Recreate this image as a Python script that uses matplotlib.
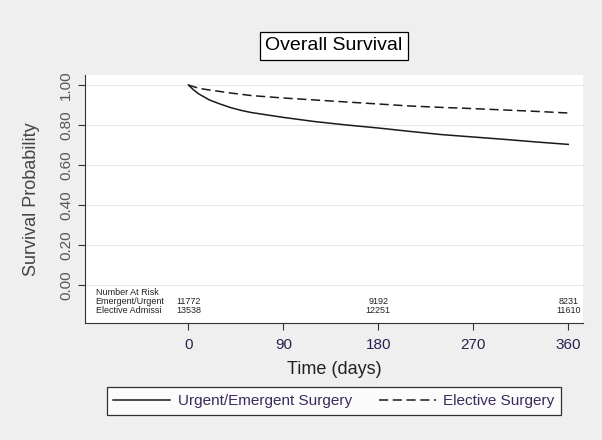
import matplotlib
matplotlib.use("Agg")
import matplotlib.pyplot as plt

plt.rcParams['font.family'] = ['Liberation Sans', 'DejaVu Sans']

# survival curves
urgent_days = [0, 5, 10, 15, 20, 30, 40, 50, 60, 75, 90, 120, 150, 180, 210, 240, 270, 300, 330, 360]
urgent_surv = [1.0, 0.975, 0.955, 0.94, 0.925, 0.905, 0.887, 0.873, 0.862, 0.85, 0.838,
               0.817, 0.8, 0.785, 0.768, 0.752, 0.74, 0.728, 0.715, 0.703]
elective_days = [0, 10, 20, 40, 60, 90, 120, 150, 180, 210, 240, 270, 300, 330, 360]
elective_surv = [1.0, 0.983, 0.975, 0.96, 0.947, 0.935, 0.925, 0.915, 0.905, 0.895,
                 0.888, 0.882, 0.875, 0.868, 0.86]

# number at risk table
risk_times = [0, 180, 360]
risk_urgent = [11772, 9192, 8231]
risk_elective = [13538, 12251, 11610]
risk_groups = ['Emergent/Urgent', 'Elective Admissi']

xticks = [0, 90, 180, 270, 360]
yticks = [0.0, 0.2, 0.4, 0.6, 0.8, 1.0]

fig = plt.figure(figsize=(6.02, 4.40), dpi=100, facecolor='#efefef')
ax = fig.add_axes([85/602, 1 - 323/440, 498/602, 248/440])
ax.set_facecolor('white')

l1, = ax.plot(urgent_days, urgent_surv, color='#1a1a1a', lw=1.1, ls='-')
l2, = ax.plot(elective_days, elective_surv, color='#1a1a1a', lw=1.1, ls=(0, (6, 3)))

ax.set_xlim(-98, 374)
ax.set_ylim(-0.19, 1.05)
ax.set_xticks(xticks)
ax.set_yticks(yticks)
ax.set_yticklabels(['%.2f' % v for v in yticks], rotation=90, va='center')
ax.tick_params(axis='both', direction='out', length=5, width=0.8, color='#333333',
               labelsize=11)
ax.tick_params(axis='x', pad=6, labelcolor='#2a2250')
ax.tick_params(axis='y', labelcolor='#555555')
ax.grid(axis='y', color='#e6e6e6', lw=0.8)
ax.set_axisbelow(True)
for s in ['top', 'right']:
    ax.spines[s].set_visible(False)
for s in ['left', 'bottom']:
    ax.spines[s].set_color('#333333')
    ax.spines[s].set_linewidth(0.8)

ax.set_ylabel('Survival Probability', fontsize=13, color='#444444', labelpad=14)
ax.set_xlabel('Time (days)', fontsize=13, color='#222222', labelpad=6)

# number at risk
ax.text(-88, -0.035, 'Number At Risk', fontsize=6.5, va='center', color='#222222')
for i, t in enumerate(risk_times):
    ax.text(t, -0.08, str(risk_urgent[i]), fontsize=6.5, ha='center', va='center', color='#222222')
    ax.text(t, -0.125, str(risk_elective[i]), fontsize=6.5, ha='center', va='center', color='#222222')
ax.text(-88, -0.08, risk_groups[0], fontsize=6.5, va='center', color='#222222')
ax.text(-88, -0.125, risk_groups[1], fontsize=6.5, va='center', color='#222222')

fig.text(334/602, 1 - 46/440, 'Overall Survival', fontsize=14, ha='center', va='center',
         bbox=dict(boxstyle='square,pad=0.3', fc='white', ec='black', lw=0.9))

leg = fig.legend([l1, l2], ['Urgent/Emergent Surgery', 'Elective Surgery'],
                 loc='center', bbox_to_anchor=(334/602, 1 - 401/440),
                 ncol=2, fontsize=11, handlelength=3.7, handletextpad=0.5,
                 columnspacing=1.8, borderpad=0.45, frameon=True,
                 fancybox=False, edgecolor='black')
leg.get_frame().set_linewidth(0.9)
for t in leg.get_texts():
    t.set_color('#3a2a5a')

fig.savefig('out.png', dpi=100, facecolor=fig.get_facecolor())
